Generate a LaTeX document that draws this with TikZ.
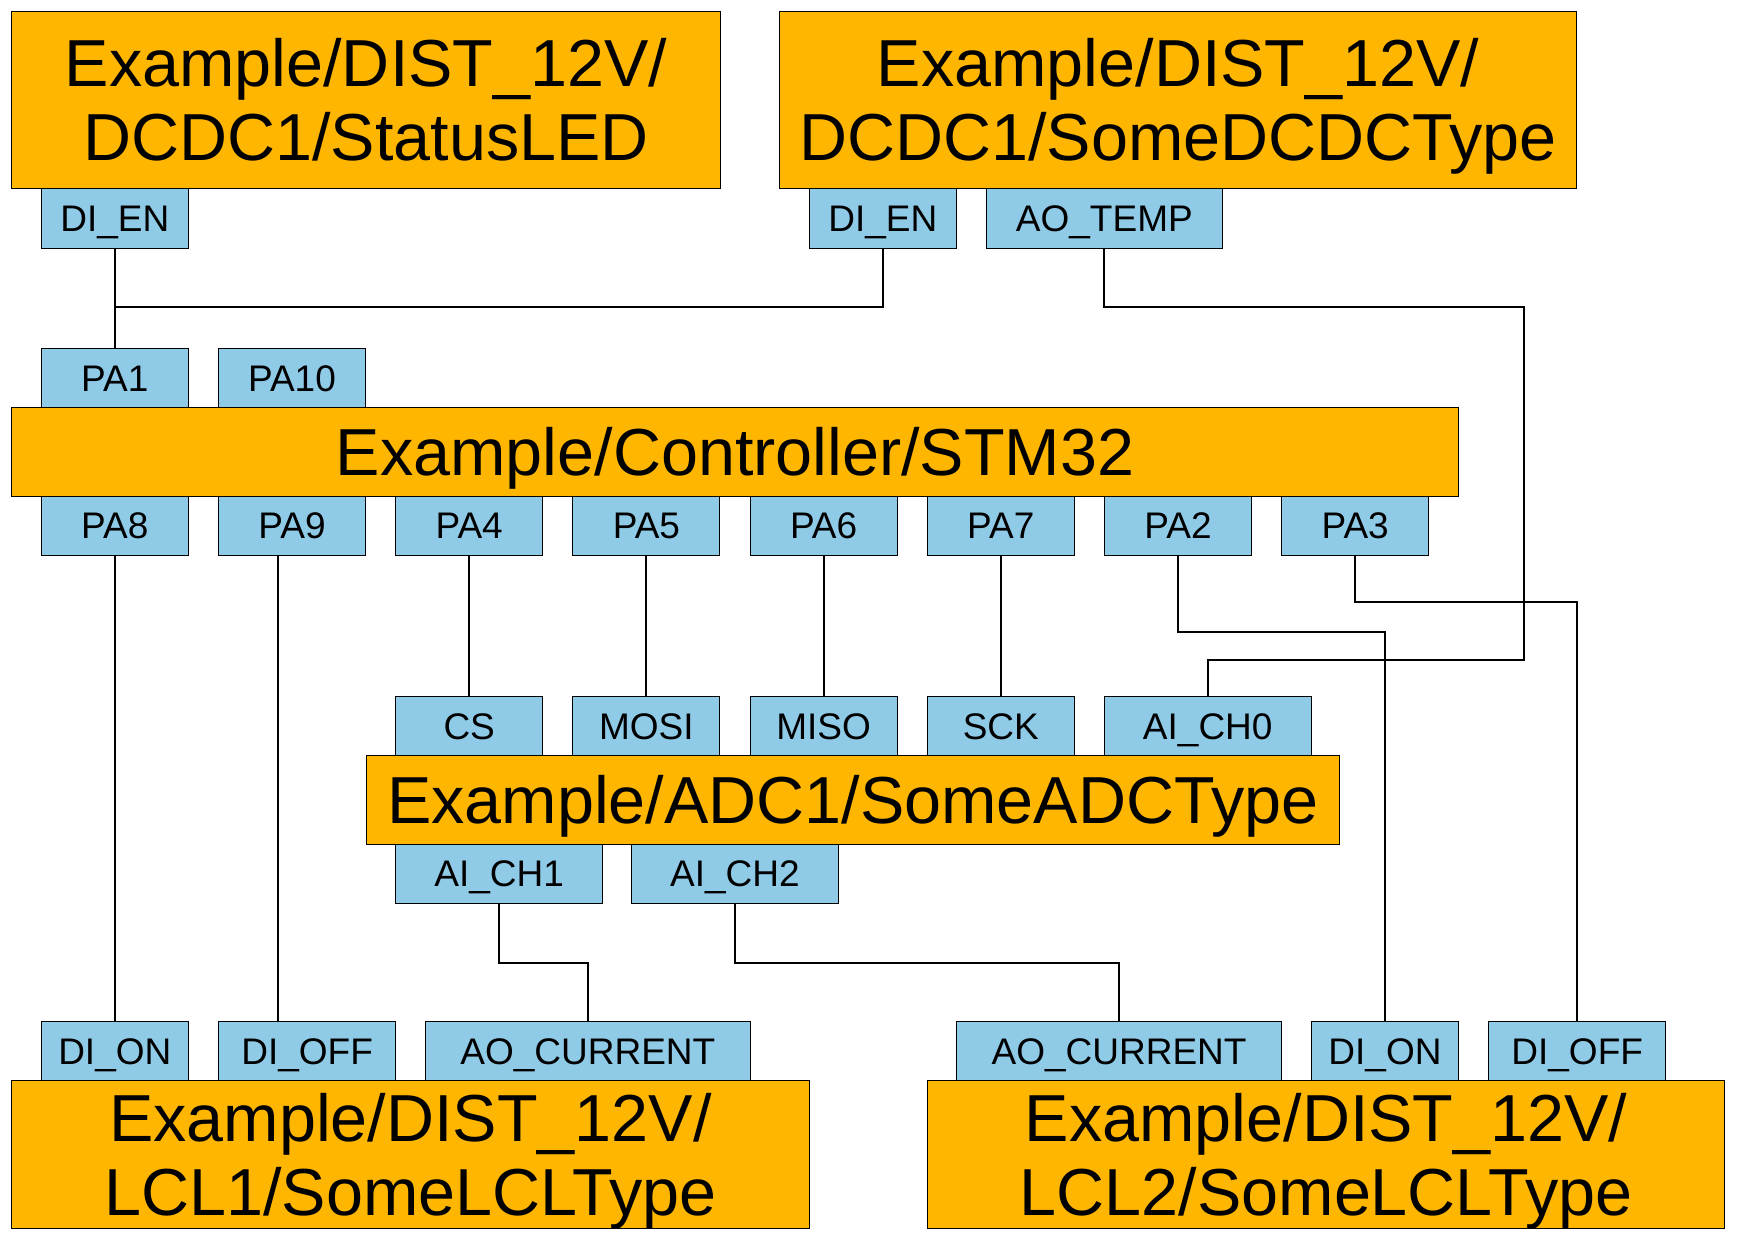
\documentclass[tikz,border=0pt]{standalone}
\usepackage{fontspec}
\setmainfont{Liberation Sans}
\definecolor{orng}{RGB}{255,182,0}
\definecolor{pblue}{RGB}{143,202,231}
\tikzset{
  blk/.style={draw=black, line width=0.5pt, fill=orng, inner sep=0pt, align=center,
    font=\fontsize{33.25}{37}\selectfont, text height=23.8pt, text depth=0pt},
  blktwo/.style={blk, text height=60.8pt, text depth=0pt},
  port/.style={draw=black, line width=0.5pt, fill=pblue, inner sep=0pt,
    font=\fontsize{18.5}{21}\selectfont, text height=13.25pt, text depth=0pt},
  wire/.style={draw=black, line width=1pt}
}
\newcommand\mkbox[7]{%
  \pgfmathsetmacro\bxcx{(#3+#5)/2}%
  \pgfmathsetmacro\bxcy{(#4+#6)/2}%
  \pgfmathsetmacro\bxww{(#5-#3)*0.5}%
  \pgfmathsetmacro\bxhh{(#6-#4)*0.5}%
  \node[#1, minimum width=\bxww pt, minimum height=\bxhh pt] (#2) at (\bxcx,\bxcy) {#7};}
\begin{document}
\begin{tikzpicture}[x=0.5pt,y=-0.5pt]
\path[use as bounding box, fill=white] (0,0) rectangle (1743,1241);
% main blocks
\mkbox{blktwo}{tl}{11.5}{11.3}{720.6}{188.3}{Example/DIST\_12V/\\DCDC1/StatusLED}
\mkbox{blktwo}{tr}{779.5}{11.3}{1576.6}{188.3}{Example/DIST\_12V/\\DCDC1/SomeDCDCType}
\mkbox{blk}{stm}{11.5}{407.6}{1458.6}{496}{Example/Controller/STM32}
\mkbox{blk}{adc}{366.2}{755.3}{1339.5}{844.3}{Example/ADC1/SomeADCType}
\mkbox{blktwo}{lclone}{11.5}{1080.3}{809.4}{1228.3}{Example/DIST\_12V/\\LCL1/SomeLCLType}
\mkbox{blktwo}{lcltwo}{927.4}{1080.3}{1724.7}{1228.3}{Example/DIST\_12V/\\LCL2/SomeLCLType}
% ports of top blocks
\mkbox{port}{dienone}{41.3}{188.3}{188.3}{248.3}{DI\_EN}
\mkbox{port}{dientwo}{809.3}{188.3}{956.3}{248.3}{DI\_EN}
\mkbox{port}{aotemp}{986.5}{188.3}{1222.2}{248.3}{AO\_TEMP}
% STM32 ports
\mkbox{port}{paone}{41.3}{348.3}{188.3}{407.6}{PA1}
\mkbox{port}{paten}{218.5}{348.3}{365.5}{407.6}{PA10}
\mkbox{port}{paeight}{41.3}{496}{188.3}{555.4}{PA8}
\mkbox{port}{panine}{218.5}{496}{365.5}{555.4}{PA9}
\mkbox{port}{pafour}{395.7}{496}{542.7}{555.4}{PA4}
\mkbox{port}{pafive}{572.9}{496}{719.9}{555.4}{PA5}
\mkbox{port}{pasix}{750.1}{496}{897.1}{555.4}{PA6}
\mkbox{port}{paseven}{927.3}{496}{1074.3}{555.4}{PA7}
\mkbox{port}{patwo}{1104.5}{496}{1251.5}{555.4}{PA2}
\mkbox{port}{pathree}{1281.7}{496}{1428.7}{555.4}{PA3}
% ADC ports
\mkbox{port}{cs}{395.7}{696.3}{542.7}{755.3}{CS}
\mkbox{port}{mosi}{572.9}{696.3}{719.9}{755.3}{MOSI}
\mkbox{port}{miso}{750.1}{696.3}{897.1}{755.3}{MISO}
\mkbox{port}{sck}{927.3}{696.3}{1074.3}{755.3}{SCK}
\mkbox{port}{aichzero}{1104.5}{696.3}{1311}{755.3}{AI\_CH0}
\mkbox{port}{aichone}{395.7}{844.3}{602.5}{903}{AI\_CH1}
\mkbox{port}{aichtwo}{631.4}{844.3}{838.4}{903}{AI\_CH2}
% LCL ports
\mkbox{port}{dionone}{41.3}{1021.3}{188.3}{1080.3}{DI\_ON}
\mkbox{port}{dioffone}{218.7}{1021.3}{395.5}{1080.3}{DI\_OFF}
\mkbox{port}{aocurone}{425.4}{1021.3}{750.3}{1080.3}{AO\_CURRENT}
\mkbox{port}{aocurtwo}{956.5}{1021.3}{1281.7}{1080.3}{AO\_CURRENT}
\mkbox{port}{diontwo}{1311.3}{1021.3}{1458.6}{1080.3}{DI\_ON}
\mkbox{port}{dOfftwo}{1488.7}{1021.3}{1665.6}{1080.3}{DI\_OFF}
% bend coordinates
\coordinate (hen) at (0,306.7);
\coordinate (rone) at (1524,306.7);
\coordinate (rtwo) at (1524,660.3);
\coordinate (ktwo) at (0,631.7);
\coordinate (kthree) at (0,601.8);
\coordinate (klow) at (0,962.7);
\coordinate (pnine) at (277.8,0);
% connectors
\draw[wire] (dienone.south) -- (paone.north);
\draw[wire] (dientwo.south) |- (dienone.south |- hen);
\draw[wire] (aotemp.south) |- (rone) -- (rtwo) -| (aichzero.north);
\draw[wire] (paeight.south) -- (dionone.north);
\draw[wire] (panine.south -| pnine) -- (dioffone.north -| pnine);
\draw[wire] (pafour.south) -- (cs.north);
\draw[wire] (pafive.south) -- (mosi.north);
\draw[wire] (pasix.south) -- (miso.north);
\draw[wire] (paseven.south) -- (sck.north);
\draw[wire] (patwo.south) |- (diontwo.north |- ktwo) -- (diontwo.north);
\draw[wire] (pathree.south) |- (dOfftwo.north |- kthree) -- (dOfftwo.north);
\draw[wire] (aichone.south) |- (aocurone.north |- klow) -- (aocurone.north);
\draw[wire] (aichtwo.south) |- (aocurtwo.north |- klow) -- (aocurtwo.north);
\end{tikzpicture}
\end{document}
